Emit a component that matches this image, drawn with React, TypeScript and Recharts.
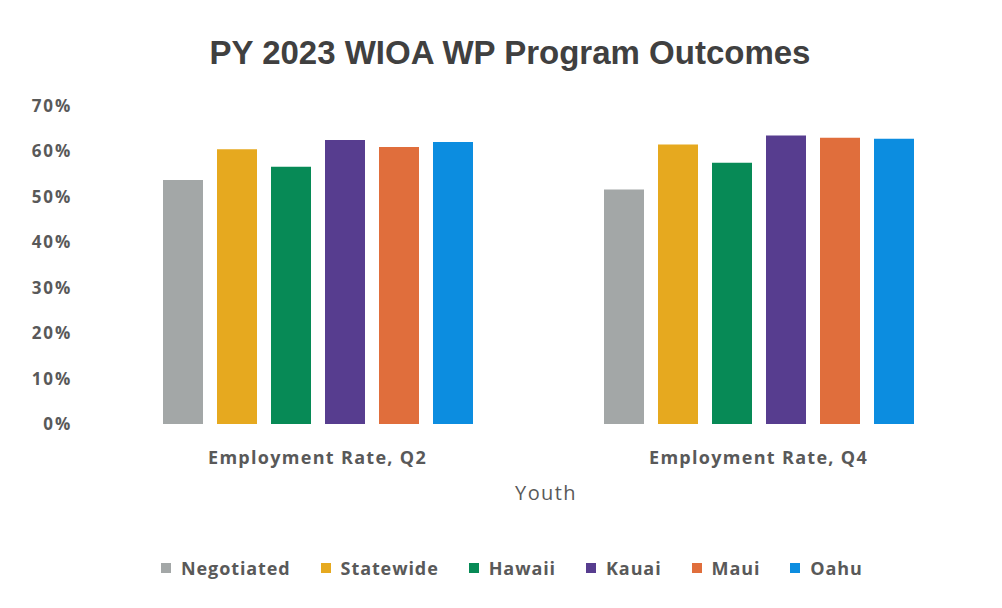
import React from 'react';
import { BarChart, Bar, XAxis, YAxis, Legend } from 'recharts';

const categories = ['Employment Rate, Q2', 'Employment Rate, Q4'];
const seriesNames = ['Negotiated', 'Statewide', 'Hawaii', 'Kauai', 'Maui', 'Oahu'];
const negotiated = [53.7, 51.6];
const statewide = [60.5, 61.5];
const hawaii = [56.6, 57.5];
const kauai = [62.5, 63.5];
const maui = [61.0, 63.0];
const oahu = [62.1, 62.8];
const yTicks = [0, 10, 20, 30, 40, 50, 60, 70];
const colors = ['#A3A7A7', '#E6A91F', '#078A56', '#573D8F', '#E06E3C', '#0C8DE0'];

const seriesValues = [negotiated, statewide, hawaii, kauai, maui, oahu];
const data = categories.map((c, i) => {
  const row: Record<string, string | number> = { category: c };
  seriesNames.forEach((s, j) => {
    row[s] = seriesValues[j][i];
  });
  return row;
});

const textColor = '#595959';
const labelFont = '"Open Sans", sans-serif';

const renderLegend = (props: any) => {
  const payload = [...(props.payload || [])].sort(
    (a: any, b: any) => seriesNames.indexOf(a.value) - seriesNames.indexOf(b.value)
  );
  return (
    <div style={{ display: 'flex', flexDirection: 'row', alignItems: 'center', paddingLeft: 161 }}>
      {payload.map((p: any, i: number) => (
        <div key={i} style={{ display: 'flex', alignItems: 'center', marginRight: 30 }}>
          <div style={{ width: 10, height: 10, background: p.color, marginRight: 10 }} />
          <span style={{ fontFamily: labelFont, fontWeight: 700, fontSize: 18, letterSpacing: 0.9, color: textColor }}>
            {p.value}
          </span>
        </div>
      ))}
    </div>
  );
};

export default function App() {
  return (
    <div style={{ position: 'absolute', left: 0, top: 0, width: 1002, height: 608, background: '#fff' }}>
      <div
        style={{
          position: 'absolute',
          left: 0,
          width: 1020,
          top: 34,
          textAlign: 'center',
          fontFamily: '"Liberation Sans", Arial, sans-serif',
          fontWeight: 700,
          fontSize: 33,
          color: '#404040',
          lineHeight: '38px',
        }}
      >
        PY 2023 WIOA WP Program Outcomes
      </div>
      <div
        style={{
          position: 'absolute',
          left: 0,
          width: 1092,
          top: 479,
          textAlign: 'center',
          fontFamily: labelFont,
          fontSize: 20,
          letterSpacing: 1.4,
          color: textColor,
          lineHeight: '28px',
        }}
      >
        Youth
      </div>
      <BarChart
        width={1002}
        height={608}
        data={data}
        margin={{ top: 106, right: 23, bottom: 124, left: 25 }}
        barSize={40}
        barGap={14}
      >
        <XAxis
          dataKey="category"
          axisLine={false}
          tickLine={false}
          tickSize={0}
          tickMargin={27}
          height={60}
          tick={{ fill: textColor, fontFamily: labelFont, fontWeight: 700, fontSize: 18, letterSpacing: 1.3 }}
        />
        <YAxis
          domain={[0, 70]}
          ticks={yTicks}
          interval={0}
          axisLine={false}
          tickLine={false}
          tickSize={0}
          tickMargin={25}
          width={72}
          tickFormatter={(v: number) => `${v}%`}
          tick={{ fill: textColor, fontFamily: labelFont, fontWeight: 700, fontSize: 17, letterSpacing: 1.8 }}
        />
        <Legend
          layout="horizontal"
          verticalAlign="middle"
          align="center"
          content={renderLegend}
          wrapperStyle={{ top: 556, left: 0, width: 1002, bottom: 'auto' }}
        />
        {seriesNames.map((s, i) => (
          <Bar key={s} dataKey={s} name={s} fill={colors[i]} isAnimationActive={false} />
        ))}
      </BarChart>
    </div>
  );
}
